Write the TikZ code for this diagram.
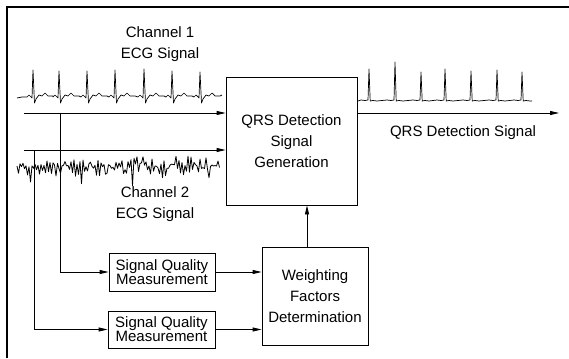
\documentclass[tikz,border=0pt]{standalone}
\usepackage{fontspec}
\setmainfont{Liberation Sans}
\usetikzlibrary{arrows.meta}

\begin{document}
\begin{tikzpicture}[
		x=1pt, y=-1pt,
		box/.style={draw, line width=0.8pt, rectangle, align=center, inner sep=0pt, font=\fontsize{15}{21}\selectfont},
		lab/.style={align=center, inner sep=0pt, font=\fontsize{15}{21}\selectfont},
		sig/.style={line width=0.7pt, line join=round},
		flow/.style={line width=0.8pt, -{Triangle[length=9pt,width=4pt]}},
	]
		\useasboundingbox (0,0) rectangle (569,358);
		\draw[line width=2.5pt] (7,358) -- (7,7) -- (569,7);

		% blocks
		\node[box, minimum width=131pt, minimum height=128pt] (QRS) at (291.5,141) {QRS Detection\\Signal\\Generation};
		\node[box, minimum width=106pt, minimum height=38pt, font=\fontsize{15}{14}\selectfont] (SQa) at (162,272) {Signal Quality\\Measurement};
		\node[box, minimum width=107pt, minimum height=37pt, font=\fontsize{15}{14}\selectfont] (SQb) at (161.5,329.5) {Signal Quality\\Measurement};
		\node[box, minimum width=106pt, minimum height=98pt] (WF) at (315,296) {Weighting\\Factors\\Determination};

		% labels
		\node[lab] (ch1) at (160,44) {Channel 1\\ECG Signal};
		\node[lab] (ch2) at (155,204) {Channel 2\\ECG Signal};
		\node[lab] (det) at (463,133) {QRS Detection Signal};

		% input and output lines
		\coordinate (in1) at (24,113);
		\coordinate (in2) at (24,150);
		\coordinate (tap1) at (60,113);
		\coordinate (tap2) at (34,150);
		\coordinate (out) at (559,113);
		\draw[flow] (in1) -- (in1 -| QRS.west);
		\draw[flow] (in2) -- (in2 -| QRS.west);
		\draw[flow] (tap1) |- (SQa.west);
		\draw[flow] (tap2) |- (SQb.west);
		\draw[flow] (SQa.east) -- (SQa.east -| WF.west);
		\draw[flow] (SQb.east) -- (SQb.east -| WF.west);
		\draw[flow] ([xshift=-8pt]WF.north) -- ([xshift=-8pt]WF.north |- QRS.south);
		\draw[flow] (QRS.east |- out) -- (out);

		% channel 1 ECG trace
		\draw[sig] (17,98) -- (22,97) \foreach \p/\t in {33/70,59/71,87/71,115/70,144/69,172/71,200/72}{
			-- (\p-6,97) -- (\p-4,95) -- (\p-2,97) -- (\p-1,98) -- (\p,\t) -- (\p+1.5,103) -- (\p+3,99)
			-- (\p+6,95) -- (\p+9,96) -- (\p+12,93) -- (\p+15,96) -- (\p+20,96)
		} -- (222,95);

		% channel 2 noisy trace
		\pgfmathsetseed{11}
		\draw[sig, line width=0.8pt] (17,166) \foreach \i in {1,...,135}{
			-- ({17+1.5*\i},{166+6*rand+(2*mod(\i,2)-1)*(2+4*rnd)+(mod(\i,17)==9)*12})
		};

		% QRS detection output trace
		\draw[sig] (358,101) \foreach \p/\t in {369/69,395/62,421/72,445/69,471/71,497/70,522/72}{
			-- (\p-8,100) -- (\p-4,100.5) -- (\p-1,100) -- (\p,\t) -- (\p+1.2,101) -- (\p+4,100.5) -- (\p+8,101)
		} -- (532,101);
	\end{tikzpicture}
\end{document}
